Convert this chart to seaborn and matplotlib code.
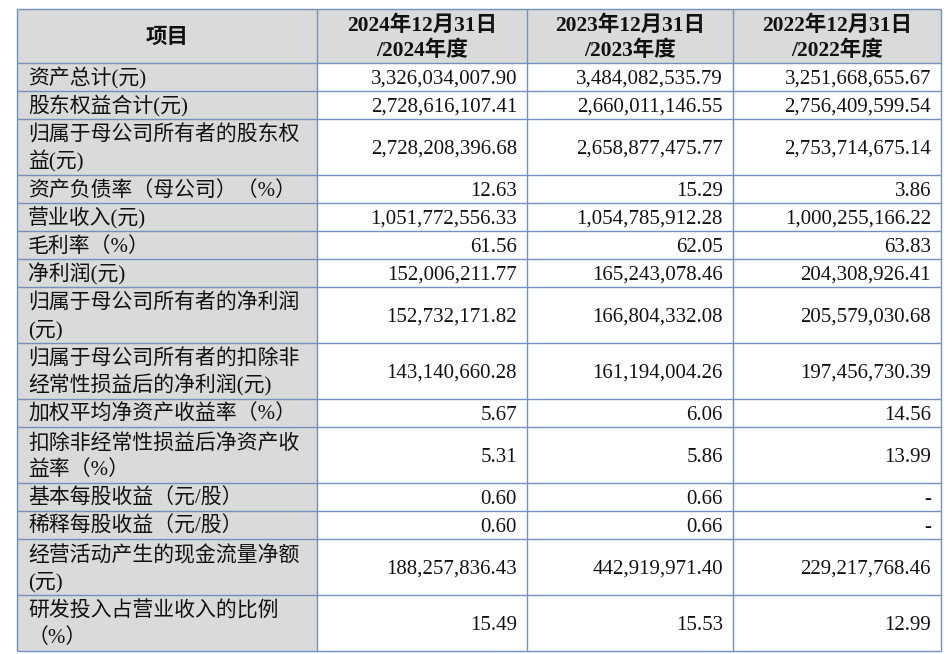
import numpy as np
import pandas as pd
import matplotlib
matplotlib.use("Agg")
import matplotlib.pyplot as plt
import seaborn as sns
from matplotlib.patches import Rectangle

sns.set_theme(style="white")
plt.rcParams['font.family'] = ['Liberation Serif', 'Noto Sans CJK SC', 'DejaVu Sans']

# ---- data ----
headers = ["项目", "2024年12月31日\n/2024年度", "2023年12月31日\n/2023年度", "2022年12月31日\n/2022年度"]
items = [
    "资产总计(元)",
    "股东权益合计(元)",
    "归属于母公司所有者的股东权\n益(元)",
    "资产负债率（母公司）（%）",
    "营业收入(元)",
    "毛利率（%）",
    "净利润(元)",
    "归属于母公司所有者的净利润\n(元)",
    "归属于母公司所有者的扣除非\n经常性损益后的净利润(元)",
    "加权平均净资产收益率（%）",
    "扣除非经常性损益后净资产收\n益率（%）",
    "基本每股收益（元/股）",
    "稀释每股收益（元/股）",
    "经营活动产生的现金流量净额\n(元)",
    "研发投入占营业收入的比例\n（%）",
]
v2024 = [3326034007.90, 2728616107.41, 2728208396.68, 12.63, 1051772556.33, 61.56,
         152006211.77, 152732171.82, 143140660.28, 5.67, 5.31, 0.60, 0.60,
         188257836.43, 15.49]
v2023 = [3484082535.79, 2660011146.55, 2658877475.77, 15.29, 1054785912.28, 62.05,
         165243078.46, 166804332.08, 161194004.26, 6.06, 5.86, 0.66, 0.66,
         442919971.40, 15.53]
v2022 = [3251668655.67, 2756409599.54, 2753714675.14, 3.86, 1000255166.22, 63.83,
         204308926.41, 205579030.68, 197456730.39, 14.56, 13.99, None, None,
         229217768.46, 12.99]

df = pd.DataFrame({"项目": items, "2024": v2024, "2023": v2023, "2022": v2022})

def fmt(v):
    if v is None or (isinstance(v, float) and np.isnan(v)):
        return "-"
    return "{:,.2f}".format(v)

# ---- layout (pixels) ----
W, H = 948, 654
col_x = [17, 317, 527, 733, 941]
top = 9
header_h = 54
line_h = 28
border = "#7391BF"
gray = "#DADADA"
fs = 15
ink = "#111111"

fig = plt.figure(figsize=(W / 100, H / 100), dpi=100)
ax = fig.add_axes([0, 0, 1, 1])
ax.set_xlim(0, W)
ax.set_ylim(H, 0)
ax.axis("off")

# row boundaries
heights = [header_h] + [line_h * (s.count("\n") + 1) for s in df["项目"]]
ys = np.concatenate([[top], top + np.cumsum(heights)])
bottom = ys[-1]

# backgrounds
ax.add_patch(Rectangle((col_x[0], top), col_x[-1] - col_x[0], header_h, color=gray, lw=0))
ax.add_patch(Rectangle((col_x[0], top), col_x[1] - col_x[0], bottom - top, color=gray, lw=0))

# grid lines
for y in ys:
    ax.plot([col_x[0], col_x[-1]], [y, y], color=border, lw=1.0, solid_capstyle="butt")
for x in col_x:
    ax.plot([x, x], [top, bottom], color=border, lw=1.0, solid_capstyle="butt")

# header text
hc = top + header_h / 2
ax.text((col_x[0] + col_x[1]) / 2, hc + 7, headers[0], ha="center", va="baseline",
        fontsize=15.5, fontweight="bold", color=ink)
for j, h in enumerate(headers[1:], start=1):
    cx = (col_x[j] + col_x[j + 1]) / 2
    for k, ln in enumerate(h.split("\n")):
        ax.text(cx, hc + 7 + (k - 0.5) * 25, ln, ha="center", va="baseline",
                fontsize=15.5, fontweight="bold", color=ink)

# body
value_cols = ["2024", "2023", "2022"]
for i, row in df.iterrows():
    y0, y1 = ys[i + 1], ys[i + 2]
    cy = (y0 + y1) / 2
    lines = row["项目"].split("\n")
    n = len(lines)
    for k, ln in enumerate(lines):
        ly = cy + 7 + (k - (n - 1) / 2) * 26
        ax.text(28, ly, ln, ha="left", va="baseline", fontsize=fs, color=ink)
    for j, c in enumerate(value_cols):
        ax.text(col_x[j + 2] - 10, cy + 7, fmt(row[c]), ha="right", va="baseline",
                fontsize=fs, color=ink)

fig.savefig("out.png", dpi=100)
